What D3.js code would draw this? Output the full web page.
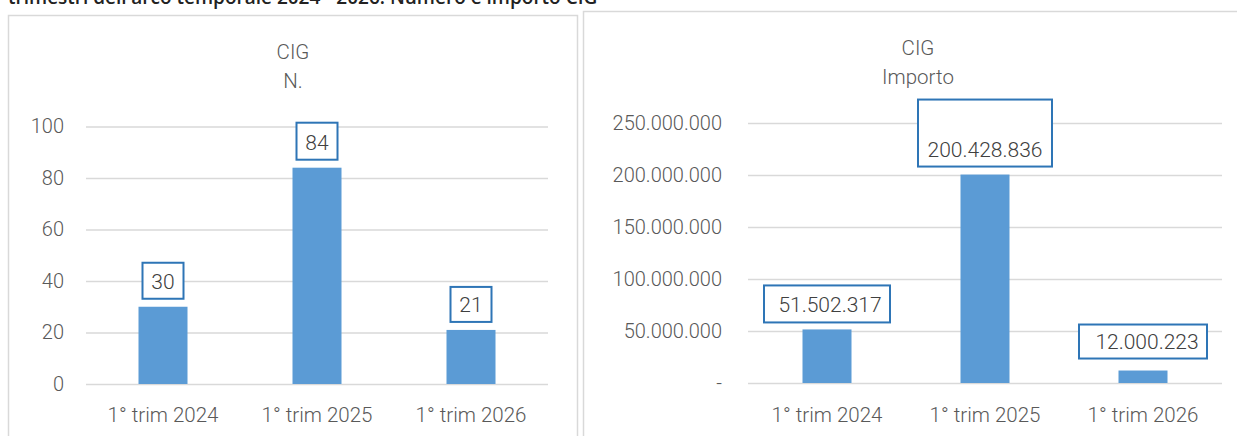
<!DOCTYPE html>
<html><head><meta charset="utf-8">
<script src="https://cdn.jsdelivr.net/npm/d3@7"></script>
<style>
body{margin:0;background:#fff;}
svg{display:block;}
text{font-family:Roboto,"Open Sans",sans-serif;}
</style></head>
<body>
<svg id="c" width="1237" height="436"></svg>
<script>
const categories = ["1° trim 2024", "1° trim 2025", "1° trim 2026"];
const cigCount = [30, 84, 21];
const cigAmount = [51502317, 200428836, 12000223];
const countTicks = [0, 20, 40, 60, 80, 100];
const amountTicks = [0, 50000000, 100000000, 150000000, 200000000, 250000000];
const headerText = "trimestri dell'arco temporale 2024 - 2026. Numero e importo CIG";

const svg = d3.select("#c");
const fmtIt = v => v === 0 ? "-" : d3.format(",")(v).replace(/,/g, ".");

svg.append("text").attr("x", 8).attr("y", 4).attr("font-size", 19).attr("font-weight", 600)
  .attr("fill", "#222").style("font-family", "'Open Sans',sans-serif").text(headerText);

// panel borders
svg.append("rect").attr("x", 8.5).attr("y", 15.5).attr("width", 569).attr("height", 440)
  .attr("fill", "none").attr("stroke", "#d9d9d9").attr("stroke-width", 1.5);
svg.append("rect").attr("x", 583.5).attr("y", 11.5).attr("width", 700).attr("height", 440)
  .attr("fill", "none").attr("stroke", "#d9d9d9").attr("stroke-width", 1.5);

function drawPanel(o) {
  const g = svg.append("g");
  const x = d3.scaleBand().domain(categories).range([o.x0, o.x1]).paddingInner(0).paddingOuter(0);
  const y = d3.scaleLinear().domain([0, o.max]).range([o.y0, o.y1]);
  // titles
  o.title.forEach((t, i) => {
    g.append("text").attr("x", o.titleX).attr("y", o.titleY + i * 29).attr("text-anchor", "middle")
      .attr("font-size", 20.5).attr("font-weight", 300).attr("fill", "#595959").text(t);
  });
  // grid
  const ax = d3.axisLeft(y).tickValues(o.ticks).tickSize(-(o.x1 - o.x0)).tickFormat(o.fmt).tickPadding(o.pad);
  const ga = g.append("g").attr("transform", `translate(${o.x0},0)`).call(ax);
  ga.select(".domain").remove();
  ga.selectAll(".tick line").attr("stroke", "#d9d9d9").attr("stroke-width", 1.5);
  ga.selectAll(".tick text").attr("font-size", 20).attr("font-weight", 300).attr("fill", "#595959")
    .style("font-family", "Roboto,sans-serif");
  // bars
  const bw = 49;
  g.selectAll("rect.bar").data(o.values).join("rect").attr("class", "bar")
    .attr("x", (d, i) => x(categories[i]) + x.bandwidth() / 2 - bw / 2)
    .attr("y", d => y(d)).attr("width", bw).attr("height", d => y(0) - y(d)).attr("fill", "#5b9bd5");
  // category labels
  g.selectAll("text.cat").data(categories).join("text").attr("class", "cat")
    .attr("x", d => x(d) + x.bandwidth() / 2).attr("y", 422).attr("text-anchor", "middle")
    .attr("font-size", 20.5).attr("font-weight", 300).attr("fill", "#595959").text(d => d);
  // data labels
  o.values.forEach((v, i) => {
    const cx = x(categories[i]) + x.bandwidth() / 2;
    const L = o.labels[i];
    const bottom = y(v) - L.gap;
    const top = bottom - L.h;
    g.append("rect").attr("x", cx - L.w / 2 + L.dx).attr("y", top).attr("width", L.w).attr("height", L.h)
      .attr("fill", "#fff").attr("stroke", "#2e75b6").attr("stroke-width", 2);
    g.append("text").attr("x", cx + L.dx + L.tdx).attr("y", bottom - 10).attr("text-anchor", "middle")
      .attr("font-size", 21).attr("font-weight", 300).attr("fill", "#404040").text(o.fmt(v) );
  });
}

drawPanel({
  x0: 86, x1: 548, y0: 384, y1: 126.5, max: 100, ticks: countTicks, fmt: d => String(d), pad: 22,
  title: ["CIG", "N."], titleX: 293, titleY: 59, values: cigCount,
  labels: [{gap: 8, h: 36, w: 41, dx: 0, tdx: 0}, {gap: 8, h: 37, w: 41, dx: 0, tdx: 0}, {gap: 8, h: 35, w: 41, dx: 0, tdx: 0}]
});
drawPanel({
  x0: 748, x1: 1222, y0: 383, y1: 123, max: 250000000, ticks: amountTicks, fmt: fmtIt, pad: 26,
  title: ["CIG", "Importo"], titleX: 918, titleY: 55, values: cigAmount,
  labels: [{gap: 7, h: 37, w: 126, dx: 0, tdx: 3}, {gap: 8, h: 67, w: 134, dx: 0, tdx: 0}, {gap: 12, h: 34, w: 128, dx: 0, tdx: 4}]
});
</script>
</body></html>
